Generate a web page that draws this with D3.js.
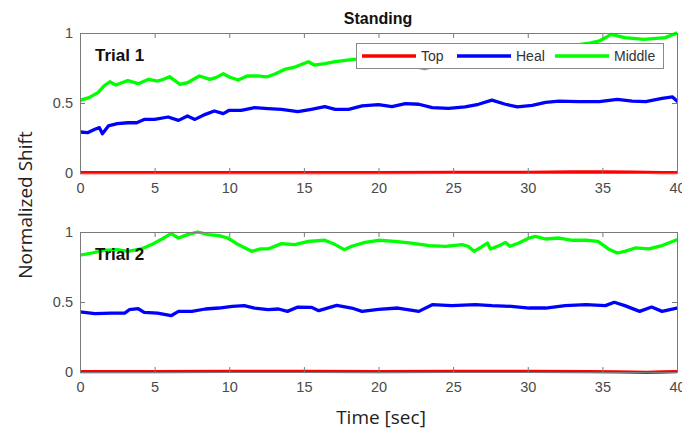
<!DOCTYPE html>
<html>
<head>
<meta charset="utf-8">
<script src="https://cdn.jsdelivr.net/npm/d3@7"></script>
<style>
  html, body { margin: 0; padding: 0; background: #fff; }
  svg { display: block; }
</style>
</head>
<body>
<svg id="chart" width="682" height="433"></svg>
<script>
// Normalized shift of the three sensors over 40 s of standing, two trials.
const timeTicks = [0, 5, 10, 15, 20, 25, 30, 35, 40];
const shiftTicks = [0, 0.5, 1];
const seriesNames = ["Top", "Heal", "Middle"];
const seriesColors = ["#ff0000", "#0000ff", "#00ff00"];
const panelLabels = ["Trial 1", "Trial 2"];

// Trial 1: [time (s), normalized shift]
const trial1Top = [[0, 0.002], [5, 0.002], [10, 0.002], [15, 0.003], [20, 0.003], [25, 0.004],
  [30, 0.005], [33, 0.007], [35, 0.008], [37, 0.006], [39, 0.003], [40, 0.002]];
const trial1Heal = [[0, 0.293], [0.5, 0.288], [1.0, 0.312], [1.3, 0.324], [1.5, 0.281], [1.9, 0.336],
  [2.5, 0.352], [3.2, 0.359], [3.8, 0.359], [4.3, 0.383], [5.0, 0.383], [5.9, 0.400], [6.6, 0.376],
  [7.2, 0.407], [7.7, 0.383], [8.4, 0.419], [9.0, 0.443], [9.6, 0.424], [10.0, 0.448], [10.8, 0.448],
  [11.7, 0.467], [12.6, 0.460], [13.5, 0.455], [14.6, 0.438], [15.5, 0.455], [16.4, 0.474],
  [17.1, 0.455], [18.0, 0.455], [18.9, 0.479], [20.0, 0.488], [20.9, 0.474], [21.8, 0.495],
  [22.7, 0.491], [23.6, 0.467], [24.7, 0.462], [25.8, 0.472], [26.7, 0.491], [27.6, 0.521],
  [28.5, 0.491], [29.3, 0.472], [30.3, 0.483], [31.2, 0.505], [32.1, 0.514], [33.4, 0.510],
  [34.8, 0.510], [36.0, 0.526], [37.0, 0.514], [37.9, 0.510], [39.0, 0.533], [39.7, 0.543], [40, 0.514]];
const trial1Middle = [[0, 0.519], [0.6, 0.538], [1.2, 0.574], [1.6, 0.621], [2.0, 0.652], [2.4, 0.628],
  [2.8, 0.645], [3.2, 0.660], [3.9, 0.638], [4.6, 0.669], [5.2, 0.657], [5.6, 0.669], [6.0, 0.688],
  [6.7, 0.633], [7.2, 0.645], [8.0, 0.693], [8.7, 0.669], [9.1, 0.681], [9.6, 0.709], [10.0, 0.686],
  [10.6, 0.664], [11.2, 0.693], [11.9, 0.693], [12.5, 0.686], [13.1, 0.709], [13.7, 0.740],
  [14.4, 0.757], [15.3, 0.795], [15.7, 0.771], [16.4, 0.781], [17.1, 0.795], [17.8, 0.805],
  [18.3, 0.812], [19.2, 0.815], [20.2, 0.800], [21.2, 0.785], [22.2, 0.765], [23.1, 0.745],
  [24.0, 0.770], [25.0, 0.790], [26.0, 0.805], [27.0, 0.820], [28.0, 0.840], [29.0, 0.850],
  [30.0, 0.865], [31.0, 0.880], [32.0, 0.895], [33.0, 0.910], [34.0, 0.925], [34.8, 0.943],
  [35.6, 0.990], [36.5, 0.967], [37.8, 0.955], [39.2, 0.967], [40, 1.0]];

// Trial 2
const trial2Top = [[0, 0.003], [5, 0.003], [10, 0.004], [15, 0.004], [20, 0.003], [25, 0.004],
  [30, 0.004], [34, 0.003], [36, 0.001], [38, -0.002], [39, 0.000], [40, 0.002]];
const trial2Heal = [[0, 0.429], [1.0, 0.417], [2.1, 0.421], [3.0, 0.421], [3.3, 0.445], [3.9, 0.452],
  [4.3, 0.426], [5.2, 0.421], [6.1, 0.402], [6.6, 0.433], [7.5, 0.433], [8.4, 0.450], [9.3, 0.457],
  [10.2, 0.469], [11.0, 0.474], [11.7, 0.457], [12.6, 0.445], [13.3, 0.450], [13.9, 0.433],
  [14.6, 0.464], [15.5, 0.462], [16.0, 0.438], [17.2, 0.476], [18.2, 0.457], [18.9, 0.433],
  [20.0, 0.447], [21.3, 0.457], [22.7, 0.433], [23.6, 0.481], [24.9, 0.474], [26.5, 0.481],
  [27.6, 0.474], [28.9, 0.469], [30.1, 0.457], [31.2, 0.457], [32.5, 0.474], [33.9, 0.481],
  [35.2, 0.474], [35.8, 0.498], [36.5, 0.474], [37.5, 0.433], [38.3, 0.464], [39.0, 0.433], [40, 0.457]];
const trial2Middle = [[0, 0.834], [0.8, 0.850], [1.6, 0.869], [2.5, 0.874], [3.2, 0.862], [4.1, 0.879],
  [4.8, 0.910], [5.5, 0.950], [6.1, 0.988], [6.6, 0.957], [7.2, 0.981], [7.9, 1.0], [8.6, 0.981],
  [9.3, 0.974], [9.9, 0.957], [10.6, 0.910], [11.5, 0.862], [12.1, 0.879], [12.6, 0.879],
  [13.5, 0.917], [14.4, 0.910], [15.3, 0.933], [16.4, 0.941], [17.1, 0.910], [17.7, 0.874],
  [18.2, 0.898], [19.1, 0.926], [20.0, 0.941], [21.1, 0.933], [22.2, 0.921], [23.4, 0.903],
  [24.5, 0.898], [25.6, 0.910], [26.0, 0.898], [26.4, 0.862], [26.9, 0.893], [27.3, 0.921],
  [27.5, 0.879], [28.1, 0.903], [28.5, 0.926], [28.8, 0.898], [29.4, 0.921], [30.1, 0.957],
  [30.5, 0.969], [31.2, 0.950], [32.1, 0.957], [33.0, 0.941], [33.9, 0.941], [34.7, 0.933],
  [35.4, 0.879], [36.0, 0.850], [36.5, 0.862], [37.2, 0.886], [38.1, 0.879], [39.0, 0.903], [40, 0.945]];

const trials = [
  [trial1Top, trial1Heal, trial1Middle],
  [trial2Top, trial2Heal, trial2Middle]
];

const svg = d3.select("#chart");
const left = 80, right = 677;
const panelTops = [33, 232];
const panelHeight = 140;
const axisColor = "#7a7a7a";
const labelColor = "#4a4a4a";

const x = d3.scaleLinear().domain([0, 40]).range([left, right]);

trials.forEach((series, i) => {
  const top = panelTops[i], bottom = top + panelHeight;
  const y = d3.scaleLinear().domain([0, 1]).range([bottom, top]);
  const g = svg.append("g");

  // plotting area clip, with a little room so lines on the edges stay visible
  const clipId = "clip" + i;
  svg.append("clipPath").attr("id", clipId)
    .append("rect")
    .attr("x", left).attr("y", top - 2)
    .attr("width", right - left).attr("height", panelHeight + 4);

  const line = d3.line().x(d => x(d[0])).y(d => y(d[1]));
  g.append("g").attr("clip-path", `url(#${clipId})`)
    .selectAll("path")
    .data(series)
    .join("path")
    .attr("d", d => line(d))
    .attr("fill", "none")
    .attr("stroke", (d, k) => seriesColors[k])
    .attr("stroke-width", 3.3)
    .attr("stroke-linejoin", "round")
    .attr("stroke-linecap", "round");

  // axes with inward ticks on all four sides
  const tick = 5;
  const xb = d3.axisBottom(x).tickValues(timeTicks).tickSize(-tick).tickPadding(10).tickFormat(d3.format("d"));
  const xt = d3.axisTop(x).tickValues(timeTicks).tickSize(-tick).tickFormat("");
  const yl = d3.axisLeft(y).tickValues(shiftTicks).tickSize(-tick).tickPadding(7).tickFormat(d => d === 0.5 ? "0.5" : d3.format("d")(d));
  const yr = d3.axisRight(y).tickValues(shiftTicks).tickSize(-tick).tickFormat("");

  const axes = [
    g.append("g").attr("transform", `translate(0,${bottom})`).call(xb),
    g.append("g").attr("transform", `translate(0,${top})`).call(xt),
    g.append("g").attr("transform", `translate(${left},0)`).call(yl),
    g.append("g").attr("transform", `translate(${right},0)`).call(yr)
  ];
  axes.forEach(a => {
    a.selectAll(".domain").attr("stroke", axisColor).attr("stroke-width", 1);
    a.selectAll(".tick line").attr("stroke", axisColor);
    a.selectAll(".tick text")
      .attr("fill", labelColor)
      .style("font-family", "'Liberation Sans', Arial, sans-serif")
      .style("font-size", "14.5px");
  });

  g.append("text")
    .attr("x", 95).attr("y", top + 28)
    .text(panelLabels[i])
    .style("font-family", "'Liberation Sans', Arial, sans-serif")
    .style("font-weight", "bold")
    .style("font-size", "17px")
    .attr("fill", "#111");
});

// title
svg.append("text")
  .attr("x", 378).attr("y", 24)
  .attr("text-anchor", "middle")
  .text("Standing")
  .style("font-family", "'Liberation Sans', Arial, sans-serif")
  .style("font-weight", "bold")
  .style("font-size", "16px")
  .attr("fill", "#111");

// legend (top panel, northeast)
const legend = svg.append("g");
legend.append("rect")
  .attr("x", 356.5).attr("y", 43.5).attr("width", 307).attr("height", 25)
  .attr("fill", "#fff").attr("stroke", "#8a8a8a").attr("stroke-width", 1);
const legendX = [362, 457, 555];
seriesNames.forEach((name, k) => {
  legend.append("line")
    .attr("x1", legendX[k]).attr("x2", legendX[k] + 54)
    .attr("y1", 56).attr("y2", 56)
    .attr("stroke", seriesColors[k]).attr("stroke-width", 3.3);
  legend.append("text")
    .attr("x", legendX[k] + 59).attr("y", 61)
    .text(name)
    .style("font-family", "'Liberation Sans', Arial, sans-serif")
    .style("font-size", "14px")
    .attr("fill", "#333");
});

// axis titles
svg.append("text")
  .attr("transform", "translate(32,205) rotate(-90)")
  .attr("text-anchor", "middle")
  .text("Normalized Shift")
  .style("font-family", "'Open Sans', sans-serif")
  .style("font-size", "19px")
  .attr("fill", "#222");
svg.append("text")
  .attr("x", 381).attr("y", 424)
  .attr("text-anchor", "middle")
  .text("Time [sec]")
  .style("font-family", "'Open Sans', sans-serif")
  .style("font-size", "19px")
  .attr("fill", "#222");
</script>
</body>
</html>
